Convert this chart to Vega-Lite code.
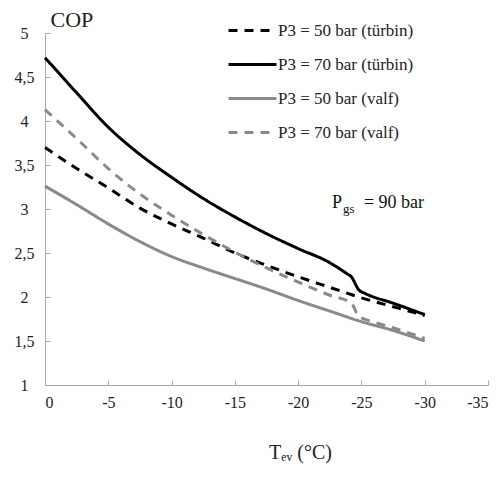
{
  "$schema": "https://vega.github.io/schema/vega-lite/v6.json",
  "autosize": {"type": "none"},
  "width": 443,
  "height": 352,
  "padding": {"left": 45, "top": 33, "right": 12, "bottom": 94},
  "background": "white",
  "config": {
    "view": {"stroke": null},
    "font": "Times New Roman, Times, Liberation Serif, serif",
    "axis": {"grid": false, "domainColor": "#a8a8a8", "tickColor": "#a8a8a8", "labelFont": "Times New Roman, Times, Liberation Serif, serif", "labelFontSize": 16, "labelColor": "#222", "titleFont": "Times New Roman, Times, Liberation Serif, serif", "titleColor": "#222", "titleFontWeight": "normal"}
  },
  "datasets": {
    "curves": [
      {"series": "P3 = 70 bar (türbin)", "T": 0, "COP": 4.72},
      {"series": "P3 = 70 bar (türbin)", "T": -2.5, "COP": 4.32},
      {"series": "P3 = 70 bar (türbin)", "T": -5, "COP": 3.93},
      {"series": "P3 = 70 bar (türbin)", "T": -7.5, "COP": 3.62},
      {"series": "P3 = 70 bar (türbin)", "T": -10, "COP": 3.36},
      {"series": "P3 = 70 bar (türbin)", "T": -12.5, "COP": 3.12},
      {"series": "P3 = 70 bar (türbin)", "T": -15, "COP": 2.91},
      {"series": "P3 = 70 bar (türbin)", "T": -17.5, "COP": 2.72},
      {"series": "P3 = 70 bar (türbin)", "T": -20, "COP": 2.55},
      {"series": "P3 = 70 bar (türbin)", "T": -22.5, "COP": 2.39},
      {"series": "P3 = 70 bar (türbin)", "T": -23.8, "COP": 2.27},
      {"series": "P3 = 70 bar (türbin)", "T": -24.2, "COP": 2.23},
      {"series": "P3 = 70 bar (türbin)", "T": -24.8, "COP": 2.08},
      {"series": "P3 = 70 bar (türbin)", "T": -25.3, "COP": 2.04},
      {"series": "P3 = 70 bar (türbin)", "T": -27.5, "COP": 1.93},
      {"series": "P3 = 70 bar (türbin)", "T": -30, "COP": 1.8},
      {"series": "P3 = 50 bar (türbin)", "T": 0, "COP": 3.7},
      {"series": "P3 = 50 bar (türbin)", "T": -2.5, "COP": 3.46},
      {"series": "P3 = 50 bar (türbin)", "T": -5, "COP": 3.24},
      {"series": "P3 = 50 bar (türbin)", "T": -7.5, "COP": 3.01},
      {"series": "P3 = 50 bar (türbin)", "T": -10, "COP": 2.83},
      {"series": "P3 = 50 bar (türbin)", "T": -12.5, "COP": 2.67},
      {"series": "P3 = 50 bar (türbin)", "T": -15, "COP": 2.5},
      {"series": "P3 = 50 bar (türbin)", "T": -17.5, "COP": 2.36},
      {"series": "P3 = 50 bar (türbin)", "T": -20, "COP": 2.23},
      {"series": "P3 = 50 bar (türbin)", "T": -22.5, "COP": 2.11},
      {"series": "P3 = 50 bar (türbin)", "T": -25, "COP": 1.99},
      {"series": "P3 = 50 bar (türbin)", "T": -27.5, "COP": 1.89},
      {"series": "P3 = 50 bar (türbin)", "T": -30, "COP": 1.79},
      {"series": "P3 = 70 bar (valf)", "T": 0, "COP": 4.13},
      {"series": "P3 = 70 bar (valf)", "T": -2.5, "COP": 3.8},
      {"series": "P3 = 70 bar (valf)", "T": -5, "COP": 3.46},
      {"series": "P3 = 70 bar (valf)", "T": -7.5, "COP": 3.17},
      {"series": "P3 = 70 bar (valf)", "T": -10, "COP": 2.93},
      {"series": "P3 = 70 bar (valf)", "T": -12.5, "COP": 2.71},
      {"series": "P3 = 70 bar (valf)", "T": -15, "COP": 2.51},
      {"series": "P3 = 70 bar (valf)", "T": -17.5, "COP": 2.33},
      {"series": "P3 = 70 bar (valf)", "T": -20, "COP": 2.17},
      {"series": "P3 = 70 bar (valf)", "T": -22.5, "COP": 2.02},
      {"series": "P3 = 70 bar (valf)", "T": -24.2, "COP": 1.93},
      {"series": "P3 = 70 bar (valf)", "T": -24.8, "COP": 1.78},
      {"series": "P3 = 70 bar (valf)", "T": -25.9, "COP": 1.72},
      {"series": "P3 = 70 bar (valf)", "T": -27.5, "COP": 1.65},
      {"series": "P3 = 70 bar (valf)", "T": -30, "COP": 1.53},
      {"series": "P3 = 50 bar (valf)", "T": 0, "COP": 3.26},
      {"series": "P3 = 50 bar (valf)", "T": -2.5, "COP": 3.05},
      {"series": "P3 = 50 bar (valf)", "T": -5, "COP": 2.83},
      {"series": "P3 = 50 bar (valf)", "T": -7.5, "COP": 2.63},
      {"series": "P3 = 50 bar (valf)", "T": -10, "COP": 2.46},
      {"series": "P3 = 50 bar (valf)", "T": -12.5, "COP": 2.33},
      {"series": "P3 = 50 bar (valf)", "T": -15, "COP": 2.21},
      {"series": "P3 = 50 bar (valf)", "T": -17.5, "COP": 2.09},
      {"series": "P3 = 50 bar (valf)", "T": -20, "COP": 1.96},
      {"series": "P3 = 50 bar (valf)", "T": -22.5, "COP": 1.84},
      {"series": "P3 = 50 bar (valf)", "T": -25, "COP": 1.72},
      {"series": "P3 = 50 bar (valf)", "T": -27.5, "COP": 1.62},
      {"series": "P3 = 50 bar (valf)", "T": -30, "COP": 1.5}
    ],
    "notes": [
      {"part": "P", "T": -22.68, "COP": 3.01},
      {"part": "gs", "T": -23.54, "COP": 2.95},
      {"part": "= 90 bar", "T": -25.2, "COP": 3.01}
    ]
  },
  "layer": [
    {
      "data": {"name": "curves"},
      "mark": {"type": "line", "interpolate": "monotone", "strokeWidth": 3},
      "encoding": {
        "x": {"field": "T", "type": "quantitative",
          "scale": {"domain": [-35, 0], "reverse": true, "nice": false, "zero": false},
          "axis": {"values": [0, -5, -10, -15, -20, -25, -30, -35], "labelExpr": "datum.value == 0 ? '0' : '-' + abs(datum.value)", "tickSize": -5, "labelPadding": 14,
            "title": "Tₑᵥ (°C)", "titleFontSize": 20, "titleX": 255, "titleY": 73, "titleAlign": "center", "titleBaseline": "alphabetic"}},
        "y": {"field": "COP", "type": "quantitative",
          "scale": {"domain": [1, 5], "nice": false, "zero": false},
          "axis": {"values": [1, 1.5, 2, 2.5, 3, 3.5, 4, 4.5, 5], "labelExpr": "replace(format(datum.value, '.1~f'), '.', ',')", "tickSize": -5, "labelPadding": 26, "labelAlign": "center",
            "title": "COP", "titleFontSize": 22, "titleAngle": 0, "titleX": 5, "titleY": -7, "titleAlign": "left", "titleBaseline": "alphabetic"}},
        "color": {"field": "series", "type": "nominal",
          "scale": {"domain": ["P3 = 50 bar (türbin)", "P3 = 70 bar (türbin)", "P3 = 50 bar (valf)", "P3 = 70 bar (valf)"], "range": ["#000000", "#000000", "#8a8a8a", "#8a8a8a"]},
          "legend": {"title": null, "orient": "none", "legendX": 182, "legendY": -28, "symbolType": "stroke", "symbolSize": 2304, "symbolStrokeWidth": 3, "labelFont": "Times New Roman, Times, Liberation Serif, serif", "labelFontSize": 17, "labelColor": "#222", "rowPadding": -16, "labelOffset": 0, "padding": 0}},
        "strokeDash": {"field": "series", "type": "nominal",
          "scale": {"domain": ["P3 = 50 bar (türbin)", "P3 = 70 bar (türbin)", "P3 = 50 bar (valf)", "P3 = 70 bar (valf)"], "range": [[9, 7], [1, 0], [1, 0], [9, 7]]},
          "legend": {"title": null, "orient": "none", "legendX": 182, "legendY": -28, "symbolType": "stroke", "symbolSize": 2304, "symbolStrokeWidth": 3, "labelFont": "Times New Roman, Times, Liberation Serif, serif", "labelFontSize": 17, "labelColor": "#222", "rowPadding": -16, "labelOffset": 0, "padding": 0}}
      }
    },
    {
      "data": {"name": "notes"},
      "transform": [{"filter": "datum.part == 'P'"}],
      "mark": {"type": "text", "align": "left", "baseline": "alphabetic", "font": "Times New Roman, Times, Liberation Serif, serif", "fontSize": 18, "color": "#111"},
      "encoding": {"x": {"field": "T", "type": "quantitative"}, "y": {"field": "COP", "type": "quantitative"}, "text": {"field": "part"}}
    },
    {
      "data": {"name": "notes"},
      "transform": [{"filter": "datum.part == 'gs'"}],
      "mark": {"type": "text", "align": "left", "baseline": "alphabetic", "font": "Times New Roman, Times, Liberation Serif, serif", "fontSize": 13, "color": "#111"},
      "encoding": {"x": {"field": "T", "type": "quantitative"}, "y": {"field": "COP", "type": "quantitative"}, "text": {"field": "part"}}
    },
    {
      "data": {"name": "notes"},
      "transform": [{"filter": "datum.part == '= 90 bar'"}],
      "mark": {"type": "text", "align": "left", "baseline": "alphabetic", "font": "Times New Roman, Times, Liberation Serif, serif", "fontSize": 18, "color": "#111"},
      "encoding": {"x": {"field": "T", "type": "quantitative"}, "y": {"field": "COP", "type": "quantitative"}, "text": {"field": "part"}}
    }
  ]
}
